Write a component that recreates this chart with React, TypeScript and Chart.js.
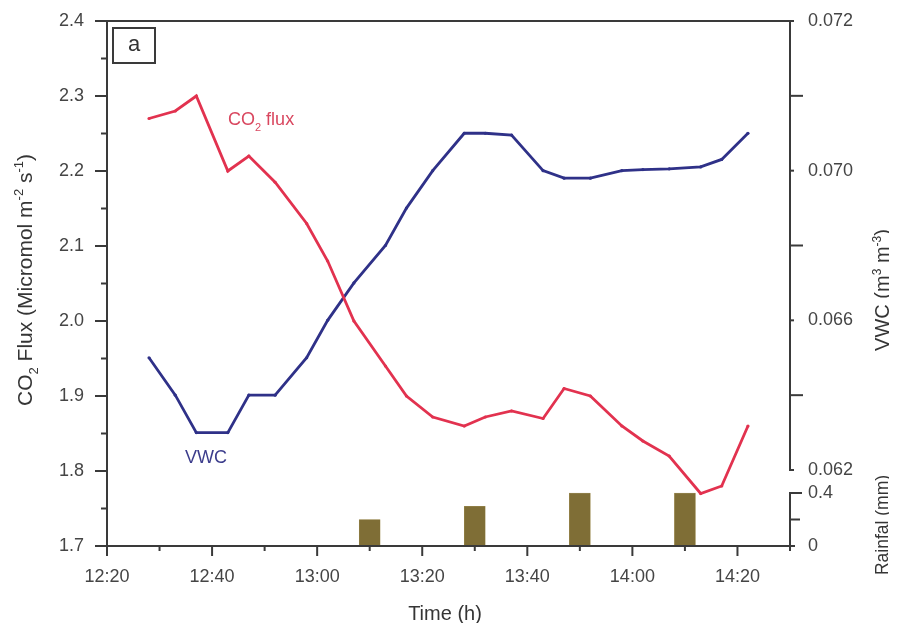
import React, { useEffect, useRef } from 'react';
import { Chart, registerables } from 'chart.js';

Chart.register(...registerables);

// ---------- data ----------
const TIMES = [
  '12:28', '12:33', '12:37', '12:43', '12:47', '12:52', '12:58', '13:02',
  '13:07', '13:13', '13:17', '13:22', '13:28', '13:32', '13:37', '13:43',
  '13:47', '13:52', '13:58', '14:02', '14:07', '14:13', '14:17', '14:22',
];
const CO2_FLUX = [
  2.27, 2.28, 2.3, 2.2, 2.22, 2.185, 2.13, 2.08,
  2.0, 1.94, 1.9, 1.872, 1.86, 1.872, 1.88, 1.87,
  1.91, 1.9, 1.86, 1.84, 1.82, 1.77, 1.78, 1.86,
];
const VWC = [
  0.065, 0.064, 0.063, 0.063, 0.064, 0.064, 0.065, 0.066,
  0.067, 0.068, 0.069, 0.07, 0.071, 0.071, 0.07095, 0.07,
  0.0698, 0.0698, 0.07, 0.07003, 0.07005, 0.0701, 0.0703, 0.071,
];
const RAIN_TIMES = ['13:10', '13:30', '13:50', '14:10'];
const RAINFALL = [0.2, 0.3, 0.4, 0.4];

const X_TICKS = [
  '12:20', '12:30', '12:40', '12:50', '13:00', '13:10', '13:20',
  '13:30', '13:40', '13:50', '14:00', '14:10', '14:20', '14:30',
];
const X_TICK_LABELS = [
  '12:20', '', '12:40', '', '13:00', '', '13:20',
  '', '13:40', '', '14:00', '', '14:20', '',
];
const CO2_TICKS = [1.7, 1.75, 1.8, 1.85, 1.9, 1.95, 2.0, 2.05, 2.1, 2.15, 2.2, 2.25, 2.3, 2.35, 2.4];
const CO2_TICK_LABELS = ['1.7', '', '1.8', '', '1.9', '', '2.0', '', '2.1', '', '2.2', '', '2.3', '', '2.4'];
const VWC_TICKS = [0.062, 0.064, 0.066, 0.068, 0.07, 0.072, 0.074];
const VWC_TICK_LABELS = ['0.062', '', '0.066', '', '0.070', '', '0.072'];
const RAIN_TICKS = [0, 0.2, 0.4];
const RAIN_TICK_LABELS = ['0', '', '0.4'];
const RAIN_AXIS_MAX = 0.5736;

// ---------- styles ----------
const FONT = '"Liberation Sans", Arial, Helvetica, sans-serif';
const AXIS_COLOR = '#3a3a3a';
const TEXT_COLOR = '#454545';
const TITLE_COLOR = '#353535';
const CO2_COLOR = '#e2324f';
const CO2_TEXT = '#d9475f';
const VWC_COLOR = '#2f3188';
const VWC_TEXT = '#3c3d8c';
const RAIN_COLOR = '#7f6e36';
const TICK_FONT = 18;
const TITLE_FONT = 20;
const NOTE_FONT = 18;

const toMin = (s: string) => {
  const [h, m] = s.split(':').map(Number);
  return h * 60 + m;
};

type Seg = { t: string; k?: 'sub' | 'sup' };

function drawRich(
  ctx: CanvasRenderingContext2D,
  segs: Seg[],
  x: number,
  y: number,
  size: number,
  color: string,
  rotate: boolean,
  align: 'center' | 'left' = 'center'
) {
  ctx.save();
  ctx.translate(x, y);
  if (rotate) ctx.rotate(-Math.PI / 2);
  const small = Math.round(size * 0.62);
  const widths = segs.map((s) => {
    ctx.font = `${s.k ? small : size}px ${FONT}`;
    return ctx.measureText(s.t).width;
  });
  const total = widths.reduce((a, b) => a + b, 0);
  let cx = align === 'center' ? -total / 2 : 0;
  const base = size * 0.36;
  ctx.fillStyle = color;
  ctx.textAlign = 'left';
  ctx.textBaseline = 'alphabetic';
  segs.forEach((s, i) => {
    ctx.font = `${s.k ? small : size}px ${FONT}`;
    const dy = s.k === 'sub' ? size * 0.3 : s.k === 'sup' ? -size * 0.42 : 0;
    ctx.fillText(s.t, cx, base + dy);
    cx += widths[i];
  });
  ctx.restore();
}

const decorPlugin = {
  id: 'decor',
  afterDraw(chart: any) {
    const ctx: CanvasRenderingContext2D = chart.ctx;
    const { x, y, yV, yR } = chart.scales;
    const ca = chart.chartArea;
    const line = (x1: number, y1: number, x2: number, y2: number) => {
      ctx.beginPath();
      ctx.moveTo(x1, y1);
      ctx.lineTo(x2, y2);
      ctx.stroke();
    };
    ctx.save();
    ctx.strokeStyle = AXIS_COLOR;
    ctx.lineWidth = 2;
    ctx.lineCap = 'square';

    // frame: left, bottom, top
    line(ca.left, ca.top, ca.left, ca.bottom);
    line(ca.left, ca.bottom, ca.right, ca.bottom);
    line(ca.left, ca.top, ca.right, ca.top);
    // right VWC axis
    const vTop = yV.getPixelForValue(VWC_TICKS[VWC_TICKS.length - 1]);
    const vBot = yV.getPixelForValue(VWC_TICKS[0]);
    line(ca.right, vTop, ca.right, vBot);
    // right rainfall axis
    const rTop = yR.getPixelForValue(RAIN_TICKS[RAIN_TICKS.length - 1]);
    const rBot = yR.getPixelForValue(RAIN_TICKS[0]);
    line(ca.right, rTop, ca.right, rBot);

    ctx.lineCap = 'butt';
    // left ticks
    CO2_TICKS.forEach((v, i) => {
      const py = y.getPixelForValue(v);
      const len = CO2_TICK_LABELS[i] ? 12 : 6;
      line(ca.left - len, py, ca.left, py);
    });
    // x ticks
    X_TICKS.forEach((t, i) => {
      const px = x.getPixelForValue(toMin(t));
      const len = X_TICK_LABELS[i] ? 10 : 5;
      line(px, ca.bottom, px, ca.bottom + len);
    });
    // VWC ticks
    VWC_TICKS.forEach((v, i) => {
      const py = yV.getPixelForValue(v);
      const len = VWC_TICK_LABELS[i] ? 4 : 13;
      line(ca.right, py, ca.right + len, py);
    });
    // rain ticks
    RAIN_TICKS.forEach((v, i) => {
      const py = yR.getPixelForValue(v);
      const len = i === 0 ? 5 : RAIN_TICK_LABELS[i] ? 12 : 10;
      line(ca.right, py, ca.right + len, py);
    });

    // panel label box
    ctx.lineWidth = 2;
    ctx.strokeRect(ca.left + 6, ca.top + 7, 42, 35);
    ctx.fillStyle = '#333';
    ctx.font = `22px ${FONT}`;
    ctx.textAlign = 'center';
    ctx.textBaseline = 'middle';
    ctx.fillText('a', ca.left + 27, ca.top + 24);
    ctx.restore();

    // axis titles
    drawRich(
      ctx,
      [
        { t: 'CO' },
        { t: '2', k: 'sub' },
        { t: ' Flux (Micromol m' },
        { t: '-2', k: 'sup' },
        { t: ' s' },
        { t: '-1', k: 'sup' },
        { t: ')' },
      ],
      16,
      272,
      21,
      TITLE_COLOR,
      true
    );
    drawRich(
      ctx,
      [{ t: 'VWC (m' }, { t: '3', k: 'sup' }, { t: ' m' }, { t: '-3', k: 'sup' }, { t: ')' }],
      874,
      282,
      TITLE_FONT,
      TITLE_COLOR,
      true
    );
    drawRich(ctx, [{ t: 'Rainfal (mm)' }], 874, 517, 17.5, TITLE_COLOR, true);
    drawRich(ctx, [{ t: 'Time (h)' }], 437, 605, TITLE_FONT, TITLE_COLOR, false);

    // series labels
    drawRich(ctx, [{ t: 'CO' }, { t: '2', k: 'sub' }, { t: ' flux' }], 220, 111, NOTE_FONT, CO2_TEXT, false, 'left');
    drawRich(ctx, [{ t: 'VWC' }], 177, 449, NOTE_FONT, VWC_TEXT, false, 'left');
  },
};

const zeroPad = (s: any) => {
  s.paddingTop = 0;
  s.paddingBottom = 0;
  s.paddingLeft = 0;
  s.paddingRight = 0;
};

function App() {
  const ref = useRef<HTMLCanvasElement | null>(null);

  useEffect(() => {
    if (!ref.current) return;
    const tickFont = { family: FONT, size: TICK_FONT };
    const chart = new Chart(ref.current, {
      data: {
        datasets: [
          {
            type: 'line',
            label: 'CO2 flux',
            data: TIMES.map((t, i) => ({ x: toMin(t), y: CO2_FLUX[i] })),
            borderColor: CO2_COLOR,
            backgroundColor: CO2_COLOR,
            borderWidth: 2.8,
            pointRadius: 1.6,
            pointBorderWidth: 0,
            tension: 0,
            yAxisID: 'y',
            xAxisID: 'x',
            clip: false,
          } as any,
          {
            type: 'line',
            label: 'VWC',
            data: TIMES.map((t, i) => ({ x: toMin(t), y: VWC[i] })),
            borderColor: VWC_COLOR,
            backgroundColor: VWC_COLOR,
            borderWidth: 2.8,
            pointRadius: 1.6,
            pointBorderWidth: 0,
            tension: 0,
            yAxisID: 'yV',
            xAxisID: 'x',
            clip: false,
          } as any,
          {
            type: 'bar',
            label: 'Rainfall',
            data: RAIN_TIMES.map((t, i) => ({ x: toMin(t), y: RAINFALL[i] })),
            backgroundColor: RAIN_COLOR,
            borderColor: '#a08f55',
            borderWidth: 0.5,
            barThickness: 21,
            yAxisID: 'yR',
            xAxisID: 'x',
            clip: false,
          } as any,
        ],
      },
      options: {
        responsive: false,
        animation: false,
        events: [],
        layout: { padding: { top: 13, left: 0, right: 0, bottom: 0 } },
        plugins: { legend: { display: false }, tooltip: { enabled: false } },
        scales: {
          x: {
            type: 'linear',
            position: 'bottom',
            offset: false,
            min: toMin(X_TICKS[0]),
            max: toMin(X_TICKS[X_TICKS.length - 1]),
            afterBuildTicks: (s: any) => {
              s.ticks = X_TICKS.map((t) => ({ value: toMin(t) }));
            },
            afterFit: (s: any) => {
              s.height = 77;
              zeroPad(s);
            },
            grid: { display: false, drawTicks: false, offset: false },
            border: { display: false },
            ticks: {
              autoSkip: false,
              maxRotation: 0,
              padding: 20,
              color: TEXT_COLOR,
              font: tickFont,
              callback: (_v: any, i: number) => X_TICK_LABELS[i],
            },
          },
          y: {
            type: 'linear',
            position: 'left',
            min: CO2_TICKS[0],
            max: CO2_TICKS[CO2_TICKS.length - 1],
            afterBuildTicks: (s: any) => {
              s.ticks = CO2_TICKS.map((v) => ({ value: v }));
            },
            afterFit: (s: any) => {
              s.width = 99;
              zeroPad(s);
            },
            grid: { display: false, drawTicks: false },
            border: { display: false },
            ticks: {
              autoSkip: false,
              padding: 23,
              color: TEXT_COLOR,
              font: tickFont,
              callback: (_v: any, i: number) => CO2_TICK_LABELS[i],
            },
          },
          yV: {
            type: 'linear',
            position: 'right',
            stack: 'right',
            stackWeight: 449,
            min: VWC_TICKS[0],
            max: VWC_TICKS[VWC_TICKS.length - 1],
            afterBuildTicks: (s: any) => {
              s.ticks = VWC_TICKS.map((v) => ({ value: v }));
            },
            afterFit: (s: any) => {
              s.width = 99;
              zeroPad(s);
            },
            grid: { display: false, drawTicks: false },
            border: { display: false },
            ticks: {
              autoSkip: false,
              padding: 18,
              color: TEXT_COLOR,
              font: tickFont,
              callback: (_v: any, i: number) => VWC_TICK_LABELS[i],
            },
          },
          yR: {
            type: 'linear',
            position: 'right',
            stack: 'right',
            stackWeight: 76,
            min: 0,
            max: RAIN_AXIS_MAX,
            afterBuildTicks: (s: any) => {
              s.ticks = RAIN_TICKS.map((v) => ({ value: v }));
            },
            afterFit: (s: any) => {
              s.width = 99;
              zeroPad(s);
            },
            grid: { display: false, drawTicks: false },
            border: { display: false },
            ticks: {
              autoSkip: false,
              padding: 18,
              color: TEXT_COLOR,
              font: tickFont,
              callback: (_v: any, i: number) => RAIN_TICK_LABELS[i],
            },
          },
        },
      } as any,
      plugins: [decorPlugin],
    });
    return () => chart.destroy();
  }, []);

  return (
    <div style={{ width: 881, height: 615, position: 'relative', background: '#fff' }}>
      <canvas ref={ref} width={881} height={615} />
    </div>
  );
}

export default App;
